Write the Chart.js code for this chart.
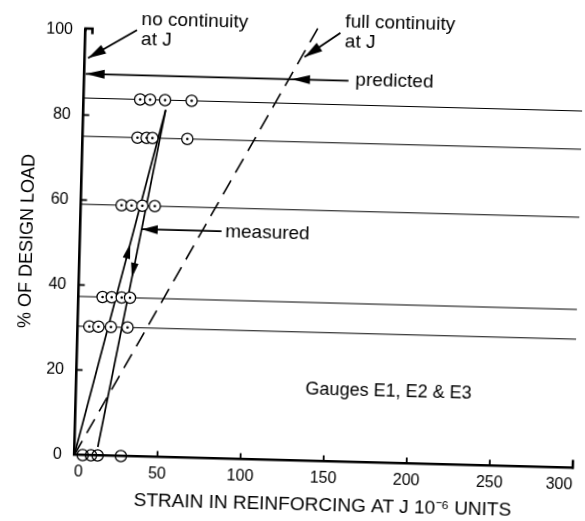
<!DOCTYPE html>
<html>
<head>
<meta charset="utf-8">
<script src="https://cdn.jsdelivr.net/npm/chart.js@4.4.1/dist/chart.umd.min.js"></script>
<style>
  html, body { margin:0; padding:0; background:#fff; overflow:hidden; }
  /* the original is a slightly skewed scan, so the whole drawing is turned a little */
  #wrap { width:585px; height:521px; transform: rotate(1.5deg); transform-origin: 50% 50%; }
</style>
</head>
<body>
<div id="wrap"><canvas id="chart" width="585" height="521"></canvas></div>
<script>
const FONT = '"Liberation Sans", Arial, Helvetica, sans-serif';

/* ---------- data ---------- */
const xTicks = [0, 50, 100, 150, 200, 250, 300];   // strain, 10^-6
const yTicks = [0, 20, 40, 60, 80, 100];           // % of design load

// load levels (horizontal lines) and gauge readings at each one
const loadLevels = [84, 75, 59, 37.3, 30.3];
const strainAt84 = [34, 40, 49, 65];
const strainAt75 = [33, 38.5, 42, 63];
const strainAt59 = [24.5, 30.5, 37, 44.5];
const strainAt37 = [14.5, 20, 26, 31];
const strainAt30 = [7, 12.5, 20, 30];
const strainAt0  = [5, 10, 14, 28];

// measured loading / unloading path
const loadingStrain   = [0, 49.5];
const loadingLoad     = [0, 81.7];
const unloadingStrain = [49.5, 14];
const unloadingLoad   = [81.7, 2];

// full continuity (dashed) and predicted level
const fullContStrain = [0, 140];
const fullContLoad   = [0, 102];
const predictedStrain = [159, 0.8];
const predictedLoad   = 89.7;

// annotation arrows: [fromX, fromY, tipX, tipY]
const arrowNoCont   = [31, 100.3, 2, 93.4];
const arrowFullCont = [153.4, 100.9, 132.2, 95];
const arrowMeasured = [85, 53.5, 37, 53.5];
const headPredLeft  = [20, 89.7, 0.8, 89.7];
const headPredRight = [150, 89.7, 125, 89.7];
const headLoading   = [0, 0, 30.3, 50];
const headUnloading = [49.5, 81.7, 31.8, 42];

// text notes
const noteText   = ['no continuity', 'at J', 'full continuity', 'at J', 'predicted', 'measured'];
const noteStrain = [33.6, 33.6, 156.2, 156.2, 163.1, 87.2];
const noteLoad   = [102.7, 98.0, 103.5, 98.8, 89.9, 53.4];
const gaugeNote = 'Gauges E1, E2 & E3';
const gaugeNotePos = [138, 16.7];

/* ---------- helpers ---------- */
const pts = (xs, ys) => xs.map((x, i) => ({x, y: Array.isArray(ys) ? ys[i] : ys}));

function lineSet(data, opts){
  return Object.assign({
    data, showLine: true, pointRadius: 0, borderColor: '#000',
    borderWidth: 1.5, fill: false, clip: false, order: 5
  }, opts || {});
}

const levelSets = loadLevels.map(l => lineSet(pts([0, 300], l), {borderWidth: 1.2, order: 6}));
const circleData = [].concat(
  pts(strainAt84, loadLevels[0]), pts(strainAt75, loadLevels[1]), pts(strainAt59, loadLevels[2]),
  pts(strainAt37, loadLevels[3]), pts(strainAt30, loadLevels[4])
);

/* ---------- extra drawing: arrow heads, inner ticks, notes ---------- */
const notesPlugin = {
  id: 'notes',
  afterDatasetsDraw(chart){
    const {ctx, chartArea: a, scales: {x, y}} = chart;
    const P = (sx, sy) => [x.getPixelForValue(sx), y.getPixelForValue(sy)];
    ctx.save();
    ctx.fillStyle = '#000';
    ctx.strokeStyle = '#000';

    function head(def, len, half){
      const [x1, y1] = P(def[0], def[1]);
      const [x2, y2] = P(def[2], def[3]);
      const t = Math.atan2(y2 - y1, x2 - x1);
      const bx = x2 - len * Math.cos(t), by = y2 - len * Math.sin(t);
      ctx.beginPath();
      ctx.moveTo(x2, y2);
      ctx.lineTo(bx + half * Math.sin(t), by - half * Math.cos(t));
      ctx.lineTo(bx - half * Math.sin(t), by + half * Math.cos(t));
      ctx.closePath();
      ctx.fill();
    }
    head(arrowNoCont, 18, 5);
    head(arrowFullCont, 18, 5);
    head(arrowMeasured, 16, 4.5);
    head(headPredLeft, 19, 4.5);
    head(headPredRight, 18, 4.5);
    head(headLoading, 15, 3.8);
    head(headUnloading, 15, 3.8);

    // inner tick marks
    ctx.lineWidth = 1.8;
    xTicks.slice(1, -1).forEach(v => {
      const px = x.getPixelForValue(v);
      ctx.beginPath(); ctx.moveTo(px, a.bottom); ctx.lineTo(px, a.bottom - 6); ctx.stroke();
    });
    yTicks.slice(1, -1).forEach(v => {
      const py = y.getPixelForValue(v);
      ctx.beginPath(); ctx.moveTo(a.left, py); ctx.lineTo(a.left + 6, py); ctx.stroke();
    });
    ctx.lineWidth = 2.5;
    ctx.beginPath(); ctx.moveTo(a.right, a.bottom + 1); ctx.lineTo(a.right, a.bottom - 8); ctx.stroke();
    ctx.beginPath();
    ctx.moveTo(a.left, a.top + 1); ctx.lineTo(a.left, a.top - 1.5);
    ctx.lineTo(a.left + 7, a.top - 1.5); ctx.lineTo(a.left + 7, a.top + 4);
    ctx.stroke();

    // notes
    ctx.textAlign = 'left';
    ctx.textBaseline = 'middle';
    ctx.font = '19px ' + FONT;
    noteText.forEach((t, i) => {
      const [tx, ty] = P(noteStrain[i], noteLoad[i]);
      ctx.fillText(t, tx, ty);
    });
    ctx.font = '18px ' + FONT;
    const [gx, gy] = P(gaugeNotePos[0], gaugeNotePos[1]);
    ctx.fillText(gaugeNote, gx, gy);
    ctx.restore();
  }
};

new Chart(document.getElementById('chart'), {
  type: 'scatter',
  data: {
    datasets: [
      // gauge dots
      {data: circleData, pointRadius: 1.3, pointBackgroundColor: '#000', pointBorderWidth: 0, order: 0},
      // gauge circles
      {data: circleData, pointRadius: 5.6, pointBackgroundColor: '#fff', pointBorderColor: '#000', pointBorderWidth: 1.3, order: 1},
      {data: pts(strainAt0, 0), pointRadius: 5.6, pointBackgroundColor: 'rgba(0,0,0,0)', pointBorderColor: '#000', pointBorderWidth: 1.3, clip: false, order: 1},
      lineSet(pts(loadingStrain, loadingLoad), {borderWidth: 1.7}),
      lineSet(pts(unloadingStrain, unloadingLoad), {borderWidth: 1.7}),
      lineSet(pts(fullContStrain, fullContLoad), {borderWidth: 1.6, borderDash: [16, 9]}),
      lineSet(pts(predictedStrain, predictedLoad), {borderWidth: 1.7}),
      lineSet(pts([arrowNoCont[0], arrowNoCont[2]], [arrowNoCont[1], arrowNoCont[3]]), {borderWidth: 1.8}),
      lineSet(pts([arrowFullCont[0], arrowFullCont[2]], [arrowFullCont[1], arrowFullCont[3]]), {borderWidth: 1.8}),
      lineSet(pts([arrowMeasured[0], arrowMeasured[2]], [arrowMeasured[1], arrowMeasured[3]]), {borderWidth: 1.8}),
      ...levelSets
    ]
  },
  options: {
    responsive: false,
    animation: false,
    events: [],
    layout: {padding: {top: 35.5, right: 3.7, left: 0, bottom: 0}},
    plugins: {legend: {display: false}, tooltip: {enabled: false}},
    scales: {
      x: {
        type: 'linear', min: 0, max: 300,
        afterFit(s){ s.height = 60.5; s.paddingLeft = 0; s.paddingRight = 0; },
        afterBuildTicks(s){ s.ticks = xTicks.map(v => ({value: v})); },
        grid: {display: false, drawTicks: false},
        border: {display: true, color: '#000', width: 2.6},
        ticks: {color: '#000', padding: 7.5, align: 'inner', maxRotation: 0, font: {family: FONT, size: 16}},
        title: {display: true, text: 'STRAIN IN REINFORCING AT J 10\u207B\u2076 UNITS', color: '#000',
                font: {family: FONT, size: 19}, padding: {top: 0, bottom: 4.6}}
      },
      y: {
        type: 'linear', min: 0, max: 100,
        afterFit(s){ s.width = 79.5; s.paddingTop = 0; s.paddingBottom = 0; },
        afterBuildTicks(s){ s.ticks = yTicks.map(v => ({value: v})); },
        grid: {display: false, drawTicks: false},
        border: {display: true, color: '#000', width: 2.6},
        ticks: {color: '#000', padding: 12.5, font: {family: FONT, size: 16}},
        title: {display: true, text: '% OF DESIGN LOAD', color: '#000',
                font: {family: FONT, size: 18}, padding: {top: 15.8, bottom: 0}}
      }
    }
  },
  plugins: [notesPlugin]
});
</script>
</body>
</html>
